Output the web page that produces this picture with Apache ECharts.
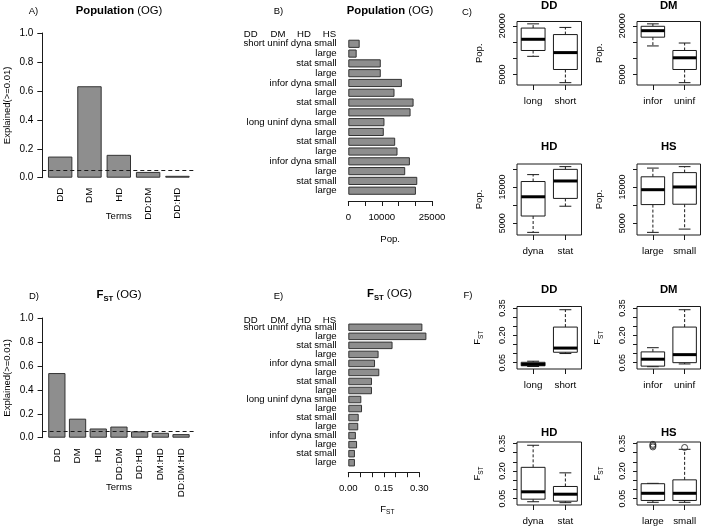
<!DOCTYPE html>
<html><head><meta charset="utf-8">
<script src="https://cdn.jsdelivr.net/npm/echarts@6/dist/echarts.min.js"></script>
<style>html,body{margin:0;padding:0;background:#fff}#c{width:709px;height:528px}</style>
</head><body><div id="c"></div>
<script>
// ---------------- data ----------------
const terms = ['DD', 'DM', 'HD', 'DD:DM', 'DD:HD'];
const popExplained = [0.146, 0.632, 0.158, 0.040, 0.013];
const fstTerms = ['DD', 'DM', 'HD', 'DD:DM', 'DD:HD', 'DM:HD', 'DD:DM:HD'];
const fstExplained = [0.540, 0.159, 0.077, 0.093, 0.053, 0.041, 0.030];
const threshold = 0.05;

const combos = ['short uninf dyna small', 'large', 'stat small', 'large',
  'infor dyna small', 'large', 'stat small', 'large',
  'long uninf dyna small', 'large', 'stat small', 'large',
  'infor dyna small', 'large', 'stat small', 'large'];
const comboHeader = ['DD', 'DM', 'HD', 'HS'];
const popValues = [3400, 2500, 9700, 9700, 16000, 13800, 19500, 18600,
  10800, 10600, 14000, 14700, 18400, 17000, 20600, 20200];
const fstValues = [0.313, 0.330, 0.187, 0.128, 0.113, 0.131, 0.100, 0.100,
  0.055, 0.058, 0.044, 0.042, 0.032, 0.037, 0.028, 0.028];
const popTicks = [0, 5000, 10000, 15000, 20000, 25000];
const popTickLabels = [0, 10000, 25000];
const fstTicks = [0, 0.05, 0.10, 0.15, 0.20, 0.25, 0.30];
const fstTickLabels = [0, 0.15, 0.30];

const factors = ['DD', 'DM', 'HD', 'HS'];
const levels = { DD: ['long', 'short'], DM: ['infor', 'uninf'], HD: ['dyna', 'stat'], HS: ['large', 'small'] };
// box statistics: [lower whisker, Q1, median, Q3, upper whisker]
const popBoxDD = [[10600, 12400, 15850, 19300, 20600], [2500, 6550, 11750, 17300, 19500]];
const popBoxDM = [[13800, 16500, 18500, 19850, 20600], [2500, 6550, 10150, 12400, 14700]];
const popBoxHD = [[2500, 7000, 12300, 16500, 18400], [9700, 11850, 16650, 19850, 20600]];
const popBoxHS = [[2500, 10150, 14250, 17800, 20200], [3400, 10250, 15000, 18950, 20600]];
const fstBoxDD = [[0.029, 0.033, 0.041, 0.052, 0.058], [0.100, 0.107, 0.130, 0.245, 0.340]];
const fstBoxDM = [[0.028, 0.031, 0.069, 0.109, 0.132], [0.043, 0.050, 0.094, 0.245, 0.340]];
const fstBoxHD = [[0.033, 0.047, 0.087, 0.220, 0.340], [0.028, 0.036, 0.074, 0.116, 0.190]];
const fstBoxHS = [[0.030, 0.040, 0.079, 0.131, 0.133], [0.030, 0.040, 0.079, 0.152, 0.318]];
const fstOutliersHS = { large: [0.345, 0.338, 0.331], small: [0.328] };
const popBoxTicks = [5000, 10000, 15000, 20000];
const popBoxLabelsTop = [5000, 20000];
const popBoxLabelsBottom = [5000, 15000];
const fstBoxTicks = [0.05, 0.10, 0.15, 0.20, 0.25, 0.30, 0.35];
const fstBoxLabels = [0.05, 0.20, 0.35];

// ---------------- styling / layout ----------------
const FONT = '"Liberation Sans", Arial, Helvetica, sans-serif';
const INK = '#000';
const LINE = '#1a1a1a';
const BAR = { color: '#8e8e8e', borderColor: '#333333', borderWidth: 1 };
const grids = [], xAxes = [], yAxes = [], series = [], graphics = [];
function addGrid(r) { grids.push(Object.assign({ containLabel: false, outerBoundsMode: 'none' }, r)); return grids.length - 1; }
function addX(a) { xAxes.push(a); return xAxes.length - 1; }
function addY(a) { yAxes.push(a); return yAxes.length - 1; }
function txt(x, y, text, st) {
  graphics.push({ type: 'text', x: x, y: y, silent: true,
    style: Object.assign({ text: text, align: 'center', verticalAlign: 'middle', fill: INK, fontFamily: FONT, fontSize: 9.5 }, st) });
}
const lbl = (size) => ({ color: INK, fontFamily: FONT, fontSize: size });
const fstRich = (size, bold) => ({
  F: { fontSize: size, fontWeight: bold ? 'bold' : 'normal', lineHeight: size + 4, fill: INK, color: INK, fontFamily: FONT },
  s: { fontSize: size * 0.68, fontWeight: bold ? 'bold' : 'normal', lineHeight: size * 0.7, verticalAlign: 'bottom', fill: INK, color: INK, fontFamily: FONT },
  n: { fontSize: size, fontWeight: 'normal', lineHeight: size + 4, fill: INK, color: INK, fontFamily: FONT },
  b: { fontSize: size, fontWeight: 'bold', lineHeight: size + 4, fill: INK, color: INK, fontFamily: FONT }
});

// ---------- explained-variance panels (A, D) ----------
function termsPanel(o) {
  const g0 = addGrid({ left: o.axisLeft, top: o.top, width: o.axisWidth, height: o.height });
  const x0 = addX({ gridIndex: g0, type: 'value', min: 0, max: 1, show: false });
  const y0 = addY({ gridIndex: g0, type: 'value', min: 0, max: 1, interval: 0.2,
    axisLine: { show: true, lineStyle: { color: LINE, width: 1 } },
    axisTick: { show: true, length: 5, lineStyle: { color: LINE } },
    splitLine: { show: false },
    axisLabel: Object.assign({ margin: 9, formatter: v => v.toFixed(1) }, lbl(10)),
    name: 'Explained(>=0.01)', nameLocation: 'middle', nameGap: 30, nameRotate: 90,
    nameMoveOverlap: false, nameTextStyle: lbl(9.5) });
  series.push({ type: 'scatter', xAxisIndex: x0, yAxisIndex: y0, data: [], silent: true,
    markLine: { silent: true, symbol: 'none', animation: false, label: { show: false },
      lineStyle: { type: [4, 3], color: LINE, width: 1 }, data: [{ yAxis: threshold }] } });
  const g1 = addGrid({ left: o.barLeft, top: o.top, width: o.barWidthTotal, height: o.height });
  const x1 = addX({ gridIndex: g1, type: 'category', data: o.cats,
    axisLine: { show: false }, axisTick: { show: false },
    axisLabel: Object.assign({ interval: 0, rotate: 90, margin: o.labelMargin }, lbl(9.8)),
    name: 'Terms', nameLocation: 'middle', nameGap: o.nameGap, nameMoveOverlap: false,
    nameTextStyle: lbl(9.5) });
  const y1 = addY({ gridIndex: g1, type: 'value', min: 0, max: 1, show: false });
  series.push({ type: 'bar', xAxisIndex: x1, yAxisIndex: y1, data: o.vals, barWidth: o.barW,
    itemStyle: BAR, silent: true });
}
termsPanel({ axisLeft: 42.3, axisWidth: 153, barLeft: 45.5, barWidthTotal: 146.6, top: 33, height: 144.7,
  cats: terms, vals: popExplained, barW: 24.4, labelMargin: 10, nameGap: 34 });
termsPanel({ axisLeft: 42.6, axisWidth: 152.8, barLeft: 46.5, barWidthTotal: 144.9, top: 318, height: 119.7,
  cats: fstTerms, vals: fstExplained, barW: 17.25, labelMargin: 10.5, nameGap: 45 });

// ---------- horizontal bar panels (B, E) ----------
function comboPanel(o) {
  const g = addGrid({ left: o.left, top: o.top, width: o.width, height: o.height });
  const xi = addX({ gridIndex: g, type: 'value', min: o.ticks[0], max: o.ticks[o.ticks.length - 1], offset: o.offset,
    axisLine: { show: true, lineStyle: { color: LINE, width: 1 } },
    axisTick: { show: true, length: 5, customValues: o.ticks, lineStyle: { color: LINE } },
    axisLabel: Object.assign({ customValues: o.tickLabels, margin: 11, formatter: o.fmt }, lbl(9.6)),
    splitLine: { show: false },
    name: o.name, nameLocation: 'middle', nameGap: o.nameGap, nameMoveOverlap: false,
    nameTextStyle: Object.assign(lbl(9.6), o.nameStyle || {}) });
  const yi = addY({ gridIndex: g, type: 'category', inverse: true, data: combos.map((c, i) => 'r' + i),
    axisLine: { show: false }, axisTick: { show: false },
    axisLabel: Object.assign({ interval: 0, margin: 11.6, formatter: (v, i) => combos[i] }, lbl(9.6)) });
  series.push({ type: 'bar', xAxisIndex: xi, yAxisIndex: yi, data: o.vals, barWidth: o.barW,
    itemStyle: BAR, silent: true, clip: false });
  const hx = [250.7, 278, 304, 329.5];
  comboHeader.forEach((h, i) => txt(hx[i], o.headerY, h, { fontSize: 9.6 }));
}
comboPanel({ left: 348.3, top: 38.9, width: 83.7, height: 156.7, offset: 5.4, ticks: popTicks, tickLabels: popTickLabels,
  fmt: v => String(v), name: 'Pop.', nameGap: 33, vals: popValues, barW: 8.16, headerY: 34.3 });
comboPanel({ left: 348.3, top: 322.8, width: 71, height: 144.4, offset: 5, ticks: fstTicks, tickLabels: fstTickLabels,
  fmt: v => v.toFixed(2), name: '{F|F}{s|ST}', nameGap: 30, nameStyle: { rich: fstRich(9.6, false), padding: [0, 0, 0, 7] },
  vals: fstValues, barW: 7.52, headerY: 320 });

// ---------- boxplot panels (C, F) ----------
function boxRender(params, api) {
  const xi = api.value(0);
  const p = [1, 2, 3, 4, 5].map(k => api.coord([xi, api.value(k)]));
  const band = api.size([1, 0])[0];
  const bw = band * 0.74, sw = bw * 0.5, cx = p[0][0];
  const dash = { stroke: LINE, lineWidth: 1, lineDash: [3, 2] };
  const solid = { stroke: LINE, lineWidth: 1 };
  return { type: 'group', children: [
    { type: 'line', shape: { x1: cx, y1: p[3][1], x2: cx, y2: p[4][1] }, style: dash },
    { type: 'line', shape: { x1: cx, y1: p[1][1], x2: cx, y2: p[0][1] }, style: dash },
    { type: 'line', shape: { x1: cx - sw / 2, y1: p[4][1], x2: cx + sw / 2, y2: p[4][1] }, style: solid },
    { type: 'line', shape: { x1: cx - sw / 2, y1: p[0][1], x2: cx + sw / 2, y2: p[0][1] }, style: solid },
    { type: 'rect', shape: { x: cx - bw / 2, y: p[3][1], width: bw, height: p[1][1] - p[3][1] },
      style: { fill: '#fff', stroke: LINE, lineWidth: 1 } },
    { type: 'line', shape: { x1: cx - bw / 2, y1: p[2][1], x2: cx + bw / 2, y2: p[2][1] },
      style: { stroke: '#000', lineWidth: 3 } }
  ] };
}
function padRange(arrs) {
  const flat = [].concat(...arrs.map(a => [].concat(...a)));
  const lo = Math.min(...flat), hi = Math.max(...flat), r = hi - lo;
  return [lo - 0.04 * r, hi + 0.04 * r];
}
const popRange = padRange([popBoxDD, popBoxDM, popBoxHD, popBoxHS]);
const fstRange = padRange([fstBoxDD, fstBoxDM, fstBoxHD, fstBoxHS, [fstOutliersHS.large, fstOutliersHS.small]]);

function boxPanel(o) {
  const g = addGrid({ left: o.left, top: o.top, width: o.width, height: o.height, show: true,
    borderColor: LINE, borderWidth: 1, backgroundColor: 'transparent' });
  const xi = addX({ gridIndex: g, type: 'category', data: o.cats, boundaryGap: true,
    axisLine: { show: false },
    axisTick: { show: true, alignWithLabel: true, length: 5, lineStyle: { color: LINE } },
    axisLabel: Object.assign({ interval: 0, margin: 11 }, lbl(9.8)), splitLine: { show: false } });
  const yi = addY({ gridIndex: g, type: 'value', min: o.range[0], max: o.range[1],
    axisLine: { show: false },
    axisTick: { show: true, length: 4, customValues: o.ticks, lineStyle: { color: LINE } },
    axisLabel: Object.assign({ rotate: 90, customValues: o.labels, margin: 10, formatter: o.fmt }, lbl(9)),
    splitLine: { show: false },
    name: o.name, nameLocation: 'middle', nameGap: 33, nameRotate: 90, nameMoveOverlap: false,
    nameTextStyle: Object.assign(lbl(9.5), o.nameStyle || {}) });
  series.push({ type: 'custom', xAxisIndex: xi, yAxisIndex: yi, renderItem: boxRender, silent: true, clip: false,
    data: o.cats.map((c, k) => [k].concat(o.stats[k])), encode: { x: 0, y: [1, 2, 3, 4, 5] } });
  if (o.outliers) {
    const pts = [];
    o.cats.forEach(c => (o.outliers[c] || []).forEach(v => pts.push([c, v])));
    series.push({ type: 'scatter', xAxisIndex: xi, yAxisIndex: yi, data: pts, symbol: 'circle', symbolSize: 6,
      silent: true, itemStyle: { color: 'rgba(255,255,255,0)', borderColor: LINE, borderWidth: 1 } });
  }
  txt(o.left + o.width / 2, o.titleY, o.title, { fontWeight: 'bold', fontSize: 11.3 });
}
const colL = [517, 637], colW = [64.5, 63.5];
const popBoxes = { DD: popBoxDD, DM: popBoxDM, HD: popBoxHD, HS: popBoxHS };
const fstBoxes = { DD: fstBoxDD, DM: fstBoxDM, HD: fstBoxHD, HS: fstBoxHS };
const rowsC = [{ top: 21.5, height: 63.5, titleY: 5.5, labels: popBoxLabelsTop }, { top: 164, height: 71, titleY: 147, labels: popBoxLabelsBottom }];
const rowsF = [{ top: 306.5, height: 62.5, titleY: 290 }, { top: 442, height: 63, titleY: 432.5 }];
factors.forEach((f, i) => {
  const r = Math.floor(i / 2), c = i % 2;
  boxPanel({ left: colL[c], width: colW[c], top: rowsC[r].top, height: rowsC[r].height, titleY: rowsC[r].titleY,
    title: f, cats: levels[f], stats: popBoxes[f], range: popRange, ticks: popBoxTicks, labels: rowsC[r].labels,
    fmt: v => String(v), name: 'Pop.' });
  boxPanel({ left: colL[c], width: colW[c], top: rowsF[r].top, height: rowsF[r].height, titleY: rowsF[r].titleY,
    title: f, cats: levels[f], stats: fstBoxes[f], range: fstRange, ticks: fstBoxTicks, labels: fstBoxLabels,
    fmt: v => v.toFixed(2), name: '{F|F}{s|ST}', nameStyle: { rich: fstRich(9.5, false) },
    outliers: f === 'HS' ? fstOutliersHS : null });
});

// ---------- panel letters and titles ----------
txt(33.5, 11.7, 'A)');
txt(278.5, 11, 'B)');
txt(467, 12, 'C)');
txt(34, 296, 'D)');
txt(278.5, 296, 'E)');
txt(468, 295, 'F)');
const popTitle = '{b|Population}{n| (OG)}';
const fstTitle = '{F|F}{s|ST}{n| (OG)}';
txt(119, 10.5, popTitle, { rich: fstRich(11.3, true) });
txt(390, 10.5, popTitle, { rich: fstRich(11.3, true) });
txt(119, 295, fstTitle, { rich: fstRich(11.3, true) });
txt(389.5, 294, fstTitle, { rich: fstRich(11.3, true) });

const chart = echarts.init(document.getElementById('c'), null, { renderer: 'canvas', width: 709, height: 528 });
chart.setOption({
  animation: false,
  backgroundColor: '#fff',
  grid: grids, xAxis: xAxes, yAxis: yAxes, series: series,
  graphic: { elements: graphics }
});
</script></body></html>
